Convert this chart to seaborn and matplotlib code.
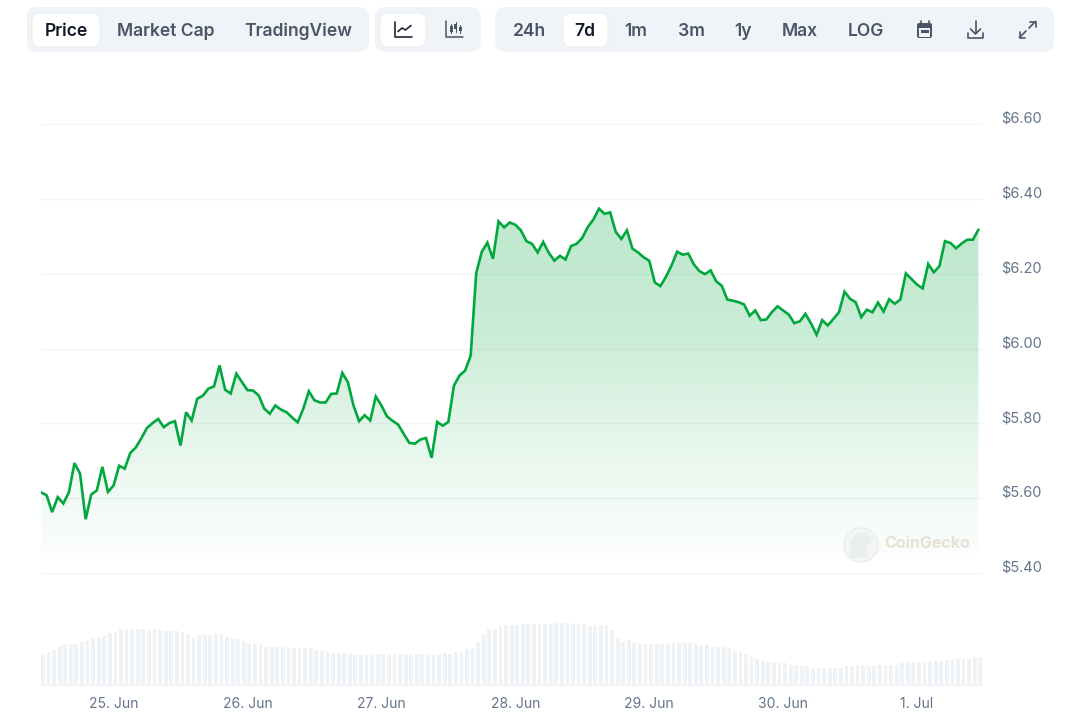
import numpy as np
import pandas as pd
import matplotlib
matplotlib.use("Agg")
import matplotlib.pyplot as plt
import matplotlib.dates as mdates
from matplotlib.patches import FancyBboxPatch, Circle, Polygon, Rectangle
from matplotlib.transforms import ScaledTranslation
import seaborn as sns

prices = [5.616,5.608,5.563,5.603,5.586,5.616,5.694,5.666,5.544,5.610,5.621,5.684,5.617,5.634,5.687,5.679,5.721,5.736,5.761,5.788,
5.801,5.812,5.790,5.801,5.806,5.741,5.830,5.808,5.866,5.874,5.893,5.899,5.955,5.890,5.880,5.933,5.911,5.889,5.888,5.875,
5.840,5.826,5.848,5.837,5.830,5.816,5.803,5.839,5.886,5.862,5.856,5.856,5.879,5.880,5.935,5.910,5.848,5.806,5.822,5.808,
5.872,5.848,5.819,5.807,5.797,5.772,5.748,5.746,5.757,5.761,5.708,5.804,5.794,5.804,5.901,5.928,5.941,5.981,6.202,6.259,
6.283,6.240,6.340,6.324,6.337,6.331,6.316,6.287,6.280,6.257,6.285,6.256,6.235,6.248,6.238,6.274,6.280,6.296,6.325,6.345,
6.374,6.360,6.364,6.312,6.293,6.316,6.267,6.257,6.244,6.235,6.177,6.167,6.192,6.222,6.259,6.251,6.254,6.225,6.207,6.199,
6.209,6.180,6.168,6.131,6.128,6.124,6.118,6.088,6.102,6.076,6.078,6.098,6.113,6.102,6.091,6.068,6.073,6.093,6.067,6.037,
6.076,6.062,6.079,6.097,6.152,6.133,6.124,6.084,6.104,6.097,6.123,6.099,6.132,6.120,6.131,6.201,6.186,6.171,6.161,6.226,
6.204,6.220,6.287,6.282,6.268,6.281,6.291,6.291,6.318]

volumes = [92,99,107,118,122,119,123,129,133,140,144,147,156,159,167,167,167,167,167,164,
167,163,160,160,160,159,152,145,149,149,149,152,152,144,140,137,133,126,123,120,
115,115,115,115,111,111,111,111,111,107,104,99,97,97,97,93,90,90,93,90,
93,93,93,93,93,93,93,93,93,90,90,93,96,93,100,104,108,112,130,149,
167,167,175,179,179,179,182,182,182,182,182,182,185,185,185,182,182,182,175,175,
179,179,164,145,130,134,126,123,123,123,123,123,123,126,126,126,126,123,119,119,
115,115,115,111,104,100,93,85,81,74,70,70,67,67,63,63,60,60,55,55,
55,55,55,55,59,59,63,60,59,60,63,63,63,63,67,70,70,70,70,74,
74,74,78,78,81,81,81,85,85]

price_ticks = [5.4, 5.6, 5.8, 6.0, 6.2, 6.4, 6.6]
price_labels = ["$5.40", "$5.60", "$5.80", "$6.00", "$6.20", "$6.40", "$6.60"]
day_ticks = ["2024-06-25", "2024-06-26", "2024-06-27", "2024-06-28", "2024-06-29", "2024-06-30", "2024-07-01"]
day_labels = ["25. Jun", "26. Jun", "27. Jun", "28. Jun", "29. Jun", "30. Jun", "1. Jul"]
range_buttons = ["24h", "7d", "1m", "3m", "1y", "Max", "LOG"]

times = pd.date_range("2024-06-24 11:00", periods=len(prices), freq="h")
df = pd.DataFrame({"time": times, "price": prices, "volume": volumes})

sns.set_theme(style="white")
plt.rcParams["font.family"] = ["Inter", "DejaVu Sans"]

W, H = 1067, 717
fig = plt.figure(figsize=(W / 100, H / 100), dpi=100, facecolor="white")

def axes_px(left, top, right, bottom, **kw):
    return fig.add_axes([left / W, 1 - bottom / H, (right - left) / W, (bottom - top) / H], **kw)

GREEN = "#00a83e"
GRID = "#f1f3f5"
TXT = "#64748b"

step = 5.58
t0 = mdates.date2num(times[0])
hour = 1 / 24
xlim = (t0, t0 + (982 - 41) / step * hour)

# ---- price panel
ax = axes_px(41, 100, 982, 590)
ax.set_facecolor("none")
ylim = (6 - 241.4 / 374.2, 6 + 248.6 / 374.2)
sns.lineplot(data=df, x="time", y="price", ax=ax, color=GREEN, linewidth=1.9, zorder=4,
             solid_joinstyle="miter", errorbar=None)
base = 6 - 204 / 374.2
poly = ax.fill_between(df["time"], df["price"], base, color="none", linewidth=0)
ypx = np.arange(100, 590)
alpha = np.interp(ypx, [205, 330, 420, 490, 553], [0.26, 0.215, 0.12, 0.06, 0.02])
rgba = np.zeros((len(ypx), 1, 4))
rgba[..., :3] = matplotlib.colors.to_rgb(GREEN)
rgba[..., 3] = alpha[:, None]
im = ax.imshow(rgba, extent=[xlim[0], xlim[1], ylim[0], ylim[1]], aspect="auto", origin="upper",
               interpolation="bilinear", zorder=2)
im.set_clip_path(poly.get_paths()[0], transform=ax.transData)
ax.set_xlim(*xlim)
ax.set_ylim(*ylim)
ax.set_yticks(price_ticks)
ax.set_yticklabels(price_labels)
ax.yaxis.tick_right()
ax.tick_params(axis="y", length=0, pad=14, labelsize=10.5, labelcolor=TXT)
for lab in ax.get_yticklabels():
    lab.set_transform(lab.get_transform() + ScaledTranslation(0, 6.8 / 100, fig.dpi_scale_trans))
ax.set_xticks([])
ax.set_xlabel("")
ax.set_ylabel("")
ax.grid(axis="y", color=GRID, linewidth=0.9, zorder=1)
ax.set_axisbelow(True)
sns.despine(ax=ax, left=True, bottom=True, right=True, top=True)

# ---- volume panel
vax = axes_px(41, 600, 982, 685)
vax.set_facecolor("none")
vax.bar(mdates.date2num(df["time"]), df["volume"], width=3.8 / step * hour, align="edge", color="#eff3f6", linewidth=0)
vax.set_xlim(*xlim)
vax.set_ylim(4.35, 4.35 + 85 * 2.9)
vax.set_yticks([])
vax.set_xticks(mdates.date2num(pd.to_datetime(day_ticks)))
vax.set_xticklabels(day_labels)
vax.tick_params(axis="x", length=8, width=0.8, color="#eef2f6", pad=1, labelsize=10, labelcolor=TXT)
sns.despine(ax=vax, left=True, right=True, top=True)
vax.spines["bottom"].set_color("#eef2f6")
vax.spines["bottom"].set_linewidth(1.2)

# ---- toolbar overlay (pixel coordinates)
ui = fig.add_axes([0, 0, 1, 1], facecolor="none")
ui.set_xlim(0, W)
ui.set_ylim(H, 0)
ui.axis("off")
PANEL = "#f0f4f9"
DARK = "#4a5568"
ACTIVE = "#111827"

def pill(x0, y0, x1, y1, color, r=9, ec="none", z=5):
    ui.add_patch(FancyBboxPatch((x0 + r, y0 + r), x1 - x0 - 2 * r, y1 - y0 - 2 * r,
                                boxstyle=f"round,pad={r},rounding_size={r}", fc=color, ec=ec, lw=0.6, zorder=z))

for x0, x1 in [(27, 369), (375, 481), (495, 1054)]:
    pill(x0, 7, x1, 52, PANEL, r=10)
for x0, x1 in [(32, 100), (380, 426), (563, 608)]:
    pill(x0, 13, x1, 47, "white", r=8, ec="#e6ece8", z=6)

def label(x, s, color=DARK):
    ui.text(x, 31, s, ha="center", va="center", fontsize=12.6, color=color, fontweight=600, zorder=7)

label(66, "Price", ACTIVE)
label(166, "Market Cap")
label(298, "TradingView")
range_x = [529, 585, 636, 691, 743, 800, 866]
for x, s in zip(range_x, range_buttons):
    label(x, s, ACTIVE if s == "7d" else DARK)

kw = dict(color=DARK, lw=1.2, zorder=7, solid_capstyle="round", solid_joinstyle="round")
# line icon
ui.plot([394.5, 394.5, 412], [21.5, 36.5, 36.5], color="#1f2937", lw=1.2, zorder=7)
ui.plot([398, 402, 405.5, 411], [31.5, 28, 30, 25.5], color="#1f2937", lw=1.2, zorder=7)
# candle icon
ui.plot([446, 446, 463], [21, 36.5, 36.5], color=DARK, lw=1.1, zorder=7)
for x, y0, y1, b0, b1 in [(451, 24, 33, 26, 31.5), (455.5, 21.5, 32, 23.5, 29), (460, 25, 33, 27, 31)]:
    ui.plot([x, x], [y0, y1], color=DARK, lw=0.8, zorder=7)
    ui.add_patch(Rectangle((x - 1.5, b0), 3, b1 - b0, fc=DARK, ec="none", zorder=7))
# calendar icon
pill(917, 23, 932, 38, DARK, r=2, z=7)
ui.add_patch(Rectangle((919, 27.5), 11, 9, fc=PANEL, ec="none", zorder=8))
ui.add_patch(Rectangle((920.5, 30), 8, 3, fc=DARK, ec="none", zorder=9))
ui.plot([920.5, 920.5], [21, 24], **kw)
ui.plot([928.5, 928.5], [21, 24], **kw)
# download icon
ui.plot([975.5, 975.5], [21, 33], **kw)
ui.plot([970.5, 975.5, 980.5], [29, 34, 29], **kw)
ui.plot([968, 968, 983, 983], [33, 38, 38, 33], **kw)
# expand icon
ui.plot([1019.5, 1026], [37.5, 31], **kw)
ui.plot([1019.5, 1019.5, 1025], [32, 37.5, 37.5], **kw)
ui.plot([1029, 1035.5], [28, 21.5], **kw)
ui.plot([1030, 1035.5, 1035.5], [21.5, 21.5, 27], **kw)

# watermark
ui.add_patch(Circle((861, 545), 17, fc="#f4f6f6", ec="#e9eded", lw=1, zorder=5))
ui.add_patch(Polygon([[850, 558], [851, 541], [857, 533], [866, 533], [873, 539], [870, 544], [865, 546], [869, 558]],
                     fc="#e9edee", ec="none", zorder=6))
ui.text(884, 544, "CoinGecko", ha="left", va="center", fontsize=11.5, color="#e6e1d3", fontweight="bold", zorder=6)

fig.savefig("out.png", dpi=100, facecolor="white")
